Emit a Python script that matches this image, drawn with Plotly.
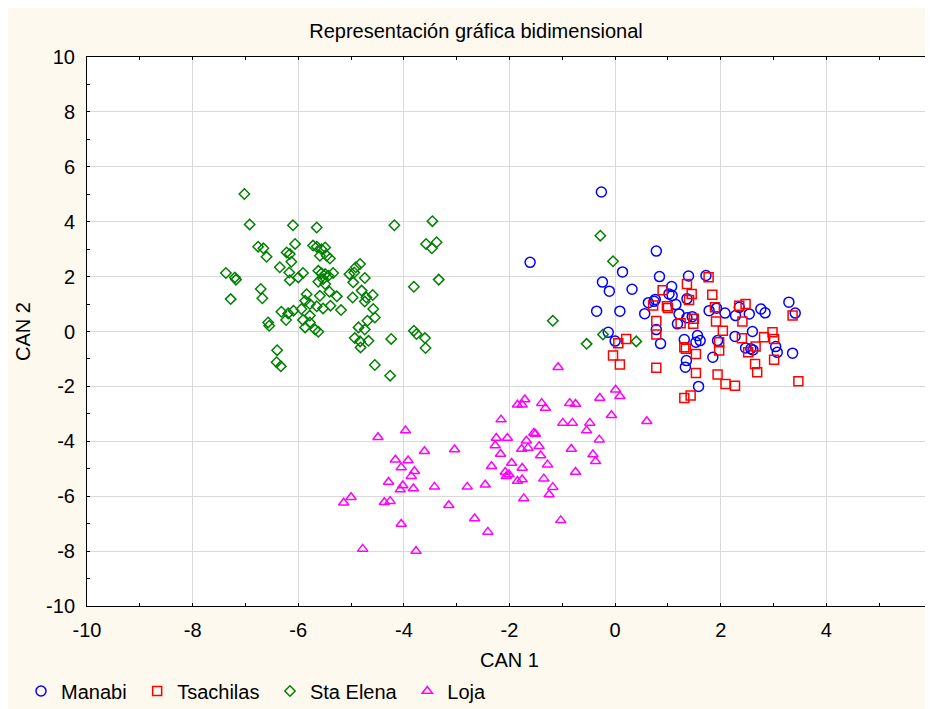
import plotly.graph_objects as go

title_text = "Representación gráfica bidimensional"
x_title = "CAN 1"
y_title = "CAN 2"

manabi_x = [-0.26, -1.61, 0.78, 0.14, 0.84, -0.24, -0.11, 0.32, -0.35, 0.09, 0.63, 0.76, 0.56, -0.13, 0.0, 0.86, 0.78,
            1.39, 1.72, 1.07, 1.02, 1.08, 0.74, 1.15, 1.21, 1.36, 1.46, 1.18, 1.31, 1.56, 1.53, 1.61, 1.35, 1.33, 1.58,
            1.78, 1.92, 2.08, 1.85, 1.94, 2.28, 2.35, 2.54, 2.76, 2.84, 2.27, 2.60, 2.47, 2.57, 2.61, 3.04, 3.07,
            3.29, 3.41, 3.36, 1.36]
manabi_y = [5.08, 2.52, 2.93, 2.17, 2.0, 1.8, 1.47, 1.54, 0.74, 0.74, 1.05, 1.17, 0.65, -0.03, -0.35, -0.44, 0.07,
            2.02, 2.04, 1.64, 1.37, 1.31, 1.10, 0.98, 0.64, 1.19, 0.54, 0.28, -0.29, -0.15, -0.39, -0.33, -1.06, -1.30, -2.0,
            0.76, 0.85, 0.67, -0.94, -0.33, 0.58, 0.88, 0.64, 0.82, 0.68, -0.18, 0.0, -0.60, -0.63, -0.67, -0.55, -0.76,
            1.07, 0.67, -0.79, 0.50]

tsachilas_x = [0.90, 0.72, 0.98, 0.78, 0.78, 0.21, 0.06, -0.04, 0.09, 0.78,
               1.77, 1.36, 1.45, 1.84, 1.40, 1.0, 1.89, 1.91, 2.35, 2.47, 2.41, 3.36, 1.24, 1.49, 1.48, 2.04, 2.40,
               1.31, 1.34, 1.53, 1.97, 1.97, 2.66, 2.52, 2.82, 2.98, 3.01, 2.65, 2.69, 3.01, 1.53, 1.94, 2.09, 2.27,
               3.47, 1.31, 1.43]
tsachilas_y = [1.50, 0.95, 0.92, 0.38, -0.11, -0.27, -0.43, -0.87, -1.20, -1.32,
               1.98, 1.73, 1.37, 1.34, 1.15, 0.86, 0.88, 0.36, 0.94, 1.0, 0.36, 0.58, 0.30, 0.46, 0.28, 0.03, -0.25,
               -0.57, -0.63, -0.82, -0.39, -0.69, -0.55, -0.76, -0.21, -0.03, -0.27, -1.18, -1.48, -1.03, -1.51, -1.57, -1.91, -1.98,
               -1.81, -2.42, -2.33]

staelena_x = [-7.02, -6.92, -6.10, -5.65, -4.18, -3.46, -6.76, -6.66, -6.60, -6.22, -6.16, -6.06, -5.72, -5.65, -5.56,
              -5.49, -5.59, -5.46, -5.40, -3.58, -3.47, -3.38, -3.34, -7.37, -7.20, -7.18, -7.28, -6.35, -6.13, -6.17,
              -6.16, -5.91, -6.0, -5.62, -5.56, -5.49, -5.43, -5.34, -5.53, -5.62, -5.49, -5.03, -4.91, -4.83, -4.94,
              -4.74, -4.96, -3.81, -6.71, -6.68, -5.84, -5.59, -5.41, -5.27, -4.97, -4.80, -4.71, -4.59, -4.74, -4.58,
              -5.87, -5.78, -5.65, -5.53, -5.39, -5.19, -6.32, -6.19, -6.09, -5.94, -6.23, -5.91, -5.78, -5.78, -5.87,
              -5.68, -5.62, -6.57, -6.55, -4.55, -4.69, -4.86, -4.74, -4.93, -4.83, -4.82, -4.67, -4.24, -3.81, -3.76,
              -3.60, -3.59, -6.40, -6.41, -6.33, -4.55, -4.26,
              -0.28, -0.04, -1.18, -0.54, -0.23, 0.40]
staelena_y = [5.01, 3.90, 3.87, 3.79, 3.87, 4.02, 3.09, 3.03, 2.72, 2.88, 2.82, 3.19, 3.13, 3.09, 3.0,
              3.06, 2.76, 2.76, 2.66, 3.19, 3.03, 3.25, 1.89, 2.13, 1.97, 1.89, 1.18, 2.34, 2.54, 2.15,
              1.87, 2.13, 1.97, 2.21, 2.12, 2.09, 2.03, 2.13, 1.91, 1.81, 1.73, 2.09, 2.34, 2.46, 2.15,
              1.95, 1.79, 1.63, 1.55, 1.21, 1.36, 1.30, 1.45, 1.28, 1.24, 1.49, 1.24, 1.33, 1.09, 0.82,
              1.12, 1.0, 0.92, 0.84, 0.94, 0.78, 0.72, 0.66, 0.76, 0.82, 0.42, 0.42, 0.58, 0.33, 0.15,
              0.07, -0.01, 0.33, 0.21, 0.51, 0.39, 0.15, 0.07, -0.24, -0.36, -0.58, -0.34, -0.27, 0.03, -0.09,
              -0.24, -0.60, -0.68, -1.12, -1.27, -1.22, -1.61,
              3.49, 2.56, 0.39, -0.45, -0.11, -0.36]

loja_x = [-3.97, -4.49, -3.61, -3.04, -4.16, -3.92, -4.05, -3.80, -3.86, -4.29, -4.02, -4.07, -3.82, -3.42, -2.80,
          -2.46, -5.0, -5.14, -4.37, -4.26, -3.15, -4.05, -2.66, -2.41, -4.78, -3.77, -2.27, -2.06,
          -1.08, -1.85, -1.76, -1.71, -1.39, -1.32, -0.86, -0.75, -0.29, 0.01, 0.09, -2.16, -0.99, -0.81, -0.48,
          -0.54, -0.07, 0.60, -2.25, -2.04, -1.54, -1.51, -1.68, -1.77, -1.65, -1.44, -1.41, -0.83, -0.30, -0.42,
          -0.37, -2.17, -1.96, -1.76, -1.28, -0.75, -2.08, -2.01, -1.35, -1.85, -1.76, -1.18, -1.25, -1.73, -1.03,
          -2.34]
loja_y = [-3.61, -3.85, -4.36, -4.30, -4.67, -4.70, -4.95, -5.09, -5.27, -5.48, -5.61, -5.76, -5.72, -5.66, -5.66,
          -5.58, -6.04, -6.24, -6.22, -6.18, -6.33, -7.01, -6.81, -7.30, -7.92, -8.0, -4.15, -5.27,
          -1.30, -2.67, -2.67, -2.48, -2.61, -2.79, -2.61, -2.64, -2.42, -2.12, -2.36, -3.21, -3.33, -3.33, -3.33,
          -3.61, -3.05, -3.27, -3.88, -3.88, -3.70, -3.73, -3.98, -4.28, -4.24, -4.18, -4.52, -4.28, -3.94, -4.48,
          -4.73, -4.46, -4.79, -4.97, -4.85, -5.12, -5.12, -5.21, -5.36, -5.45, -5.39, -5.67, -5.94, -6.08, -6.88,
          -4.91]

x_ticks = [-10, -8, -6, -4, -2, 0, 2, 4, 6]
x_ticklabels = ["-10", "-8", "-6", "-4", "-2", "0", "2", "4", "6"]
y_ticks = [-10, -8, -6, -4, -2, 0, 2, 4, 6, 8, 10]
y_ticklabels = ["-10", "-8", "-6", "-4", "-2", "0", "2", "4", "6", "8", "10"]

series = [
    ("Manabi", manabi_x, manabi_y, "circle-open", 10, "#0000ff"),
    ("Tsachilas", tsachilas_x, tsachilas_y, "square-open", 9, "#ff0000"),
    ("Sta Elena", staelena_x, staelena_y, "diamond-open", 8, "#008000"),
    ("Loja", loja_x, loja_y, "triangle-up-open", 9, "#ff00ff"),
]

fig = go.Figure()
for name, xs, ys, sym, sz, col in series:
    fig.add_trace(go.Scatter(
        x=xs, y=ys, mode="markers", name=name + "\u00a0",
        marker=dict(symbol=sym, size=sz, color=col, line=dict(width=1.5, color=col)),
    ))

FONT = "Liberation Sans, Arial, sans-serif"
FS = 20
axis_common = dict(
    showgrid=True, gridcolor="#d9d9d9", gridwidth=1, automargin=False,
    zeroline=False, showline=True, linecolor="black", linewidth=1, mirror="allticks",
    ticks="inside", ticklen=3, tickcolor="black",
    minor=dict(ticks="inside", ticklen=3, dtick=1, tickcolor="black", showgrid=False),
    tickfont=dict(family=FONT, size=FS, color="black"),
    title_font=dict(family=FONT, size=FS, color="black"),
    ticklabeloverflow="allow",
)

fig.update_xaxes(range=[-10, 6], tickvals=x_ticks, ticktext=x_ticklabels, title_text=x_title,
                 title_standoff=12, ticklabelstandoff=6, **axis_common)
fig.update_yaxes(range=[-10, 10], tickvals=y_ticks, ticktext=y_ticklabels, title_text=y_title,
                 title_standoff=10, ticklabelstandoff=7, **axis_common)

W, H = 925, 701
fig.update_layout(
    width=W, height=H,
    margin=dict(l=79, r=1, t=49, b=103, pad=0),
    paper_bgcolor="#fdf9ee", plot_bgcolor="white",
    font=dict(family=FONT, size=FS, color="black"),
    title=dict(text=title_text, x=468 / W, xanchor="center", y=1 - 23 / H, yanchor="middle",
               xref="container", yref="container", font=dict(family=FONT, size=FS, color="black")),
    legend=dict(orientation="h", xref="container", yref="container", x=13 / W, xanchor="left",
                y=1 - 683 / H, yanchor="middle", bgcolor="rgba(0,0,0,0)",
                font=dict(family=FONT, size=FS, color="black"), itemsizing="trace"),
    showlegend=True,
)

fig.write_html("out.html")
